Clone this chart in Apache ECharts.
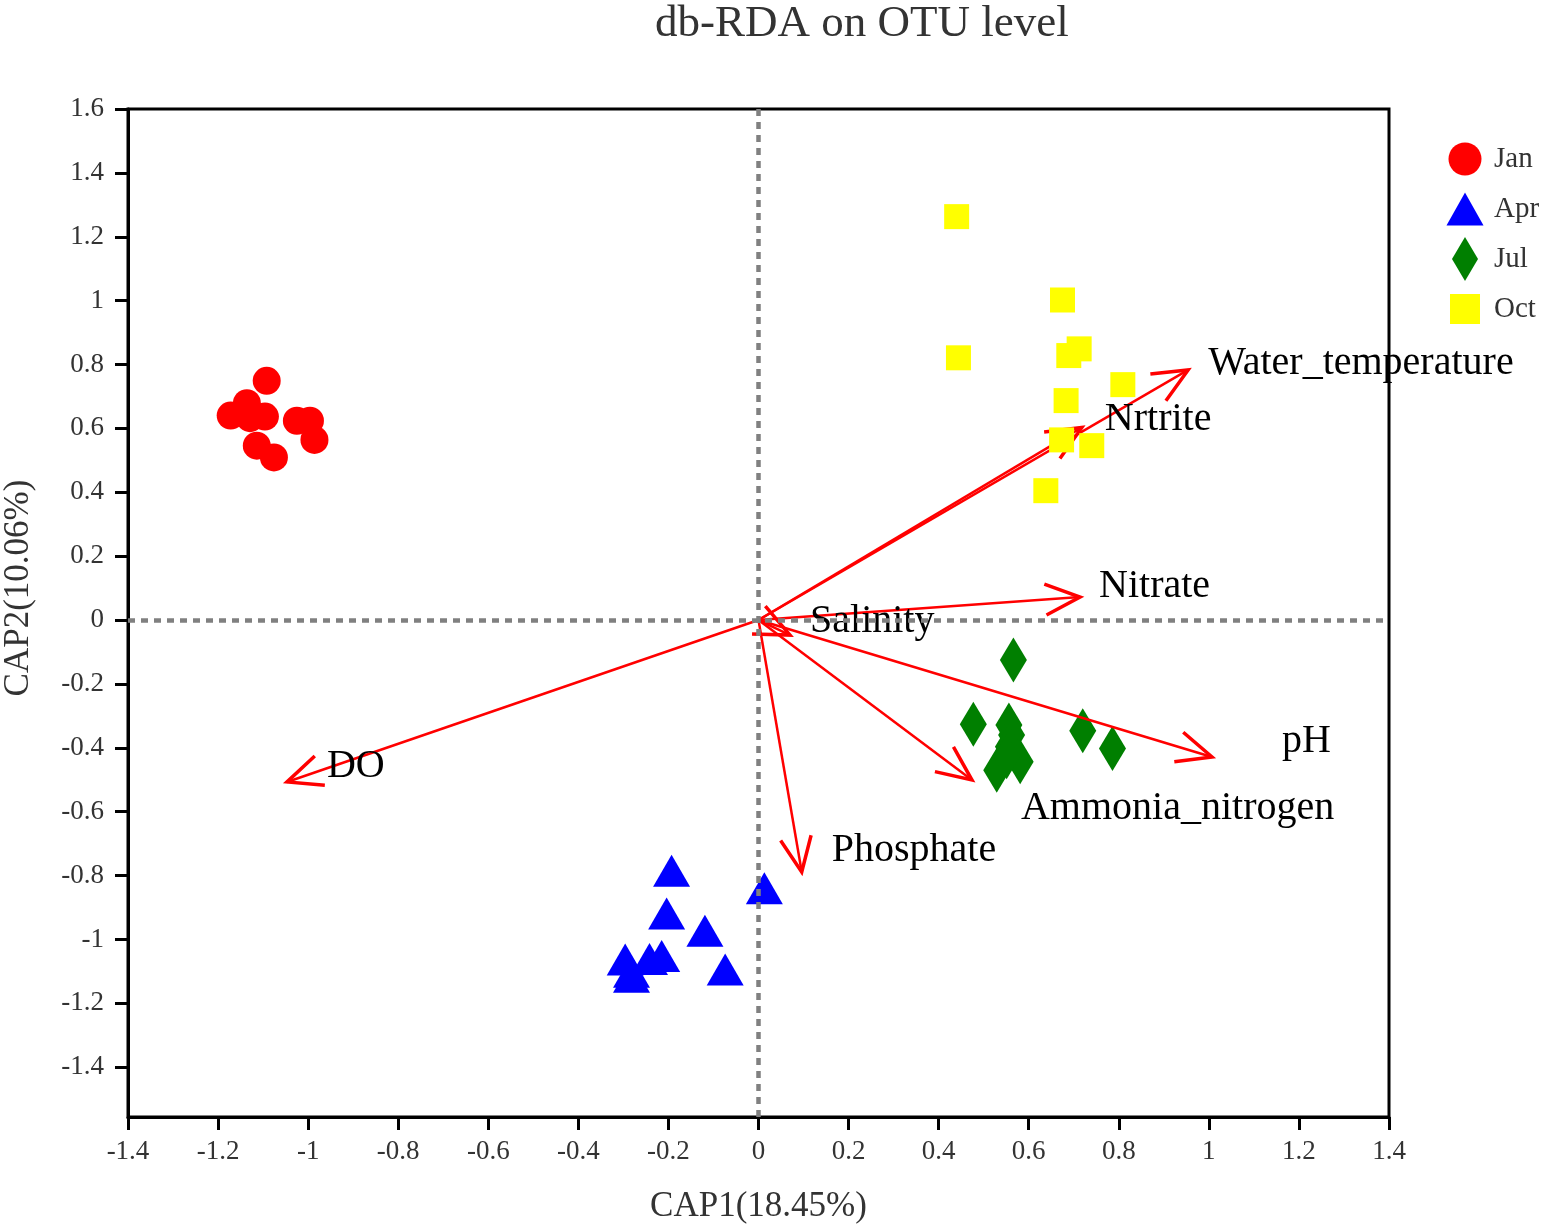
<!DOCTYPE html>
<html>
<head>
<meta charset="utf-8">
<title>db-RDA on OTU level</title>
<script src="https://cdn.jsdelivr.net/npm/echarts@6/dist/echarts.min.js"></script>
<style>
  html, body { margin: 0; padding: 0; background: #fff; }
  #main { width: 1544px; height: 1229px; }
</style>
</head>
<body>
<div id="main"></div>
<script>
// sample scores, [CAP1, CAP2]
var jan = [[-1.092, 0.749], [-1.136, 0.679], [-1.172, 0.640], [-1.129, 0.632], [-1.096, 0.637],
           [-1.025, 0.624], [-0.996, 0.624], [-0.986, 0.564], [-1.114, 0.546], [-1.076, 0.509]];
var apr = [[-0.193, -0.785], [0.013, -0.840], [-0.204, -0.919], [-0.119, -0.973], [-0.215, -1.052],
           [-0.242, -1.061], [-0.296, -1.063], [-0.074, -1.094], [-0.282, -1.101], [-0.282, -1.117]];
var jul = [[0.566, -0.125], [0.477, -0.326], [0.556, -0.329], [0.720, -0.347], [0.786, -0.402],
           [0.562, -0.360], [0.555, -0.397], [0.581, -0.444], [0.529, -0.470], [0.551, -0.428]];
var oct = [[0.440, 1.263], [0.675, 1.002], [0.444, 0.821], [0.712, 0.849], [0.689, 0.828],
           [0.809, 0.737], [0.683, 0.687], [0.673, 0.564], [0.740, 0.546], [0.638, 0.405]];

// environmental factor arrows
var envNames = ['Water_temperature', 'Nrtrite', 'Nitrate', 'Salinity', 'pH', 'Ammonia_nitrogen', 'Phosphate', 'DO'];
var envCAP1 = [0.954, 0.718, 0.714, 0.070, 1.007, 0.474, 0.096, -1.047];
var envCAP2 = [0.783, 0.603, 0.072, -0.047, -0.429, -0.501, -0.789, -0.507];

var xTicks = [-1.4, -1.2, -1, -0.8, -0.6, -0.4, -0.2, 0, 0.2, 0.4, 0.6, 0.8, 1, 1.2, 1.4];
var yTicks = [-1.4, -1.2, -1, -0.8, -0.6, -0.4, -0.2, 0, 0.2, 0.4, 0.6, 0.8, 1, 1.2, 1.4, 1.6];

// label offset from arrow tip, px
var labelShift = {
  'Water_temperature': [20, -6],
  'Nrtrite': [23, -8],
  'Nitrate': [19, -11],
  'Salinity': [20, -14],
  'pH': [70, -16],
  'Ammonia_nitrogen': [49, 28],
  'Phosphate': [30, -22],
  'DO': [40, -15]
};

var FONT = '"Liberation Serif", "DejaVu Serif", serif';

var chart = echarts.init(document.getElementById('main'));

function renderArrow(params, api) {
  var o = api.coord([0, 0]);
  var t = api.coord([api.value(0), api.value(1)]);
  var ang = Math.atan2(t[1] - o[1], t[0] - o[0]);
  var len = 38, spread = 24 * Math.PI / 180;
  var a1 = [t[0] - len * Math.cos(ang - spread), t[1] - len * Math.sin(ang - spread)];
  var a2 = [t[0] - len * Math.cos(ang + spread), t[1] - len * Math.sin(ang + spread)];
  var name = envNames[params.dataIndex];
  var sh = labelShift[name];
  return {
    type: 'group',
    children: [
      { type: 'line', shape: { x1: o[0], y1: o[1], x2: t[0], y2: t[1] }, style: { stroke: '#ff0000', lineWidth: 2.5, fill: null } },
      { type: 'polyline', shape: { points: [a1, t, a2] }, style: { stroke: '#ff0000', lineWidth: 3.5, lineJoin: 'miter', fill: null } },
      {
        type: 'text',
        x: t[0] + sh[0], y: t[1] + sh[1],
        style: { text: name, fontSize: 40, fontFamily: FONT, fill: '#000', align: 'left', verticalAlign: 'middle' }
      }
    ]
  };
}

var option = {
  backgroundColor: '#fff',
  animation: false,
  title: {
    text: 'db-RDA on OTU level',
    left: 650,
    top: -3,
    textStyle: { fontSize: 45, fontWeight: 'normal', fontFamily: FONT, color: '#333' }
  },
  legend: {
    orient: 'vertical',
    left: 1440,
    top: 132,
    itemWidth: 40,
    itemHeight: 44,
    itemGap: 6,
    symbolKeepAspect: true,
    textStyle: { fontSize: 29, fontFamily: FONT, color: '#333', padding: [0, 0, 0, 4] },
    data: [
      { name: 'Jan', icon: 'path://M0,0 M40,44 M3.5,22 A16.5,16.5 0 1 1 36.5,22 A16.5,16.5 0 1 1 3.5,22 Z' },
      { name: 'Apr', icon: 'path://M0,0 M40,44 M1.5,38.5 L20,5.5 L38.5,38.5 Z' },
      { name: 'Jul', icon: 'path://M0,0 M40,44 M20,0 L33,22 L20,44 L7,22 Z' },
      { name: 'Oct', icon: 'path://M0,0 M40,44 M5,7 L35,7 L35,37 L5,37 Z' }
    ]
  },
  grid: {
    left: 128, right: 155, top: 109, bottom: 112,
    containLabel: false,
    outerBoundsMode: 'none',
    show: true, borderColor: '#000', borderWidth: 3, backgroundColor: 'transparent'
  },
  xAxis: {
    type: 'value',
    min: -1.4, max: 1.4,
    name: 'CAP1(18.45%)',
    nameLocation: 'middle',
    nameGap: 72,
    nameTextStyle: { fontSize: 35, fontFamily: FONT, color: '#333' },
    axisLine: { show: true, onZero: false, lineStyle: { color: '#000', width: 3 } },
    axisTick: { show: true, inside: false, length: 13, lineStyle: { color: '#000', width: 3 }, customValues: xTicks },
    axisLabel: { margin: 21, fontSize: 27, fontFamily: FONT, color: '#333', customValues: xTicks },
    splitLine: { show: false }
  },
  yAxis: {
    type: 'value',
    min: -1.556, max: 1.6,
    name: 'CAP2(10.06%)',
    nameLocation: 'middle',
    nameGap: 92,
    nameTextStyle: { fontSize: 35, fontFamily: FONT, color: '#333', padding: [0, 0, 0, 50] },
    axisLine: { show: true, onZero: false, lineStyle: { color: '#000', width: 3 } },
    axisTick: { show: true, inside: false, length: 13, lineStyle: { color: '#000', width: 3 }, customValues: yTicks },
    axisLabel: { margin: 24, fontSize: 27, fontFamily: FONT, color: '#333', customValues: yTicks },
    splitLine: { show: false }
  },
  series: [
    {
      name: 'ref',
      type: 'scatter',
      data: [],
      z: 1,
      silent: true,
      markLine: {
        silent: true,
        symbol: ['none', 'none'],
        label: { show: false },
        lineStyle: { color: '#808080', width: 4.5, type: [7, 6] },
        data: [{ xAxis: 0 }, { yAxis: 0 }]
      }
    },
    { name: 'Jan', type: 'scatter', symbol: 'circle', symbolSize: 28, z: 2, itemStyle: { color: '#ff0000', opacity: 1 }, data: jan },
    { name: 'Apr', type: 'scatter', symbol: 'triangle', symbolSize: [37, 32], z: 2, itemStyle: { color: '#0000ff', opacity: 1 }, data: apr },
    { name: 'Jul', type: 'scatter', symbol: 'diamond', symbolSize: [27, 45], z: 2, itemStyle: { color: '#007f00', opacity: 1 }, data: jul },
    {
      name: 'env',
      type: 'custom',
      z: 3,
      silent: true,
      renderItem: renderArrow,
      data: envNames.map(function (n, i) { return { name: n, value: [envCAP1[i], envCAP2[i]] }; })
    },
    { name: 'Oct', type: 'scatter', symbol: 'rect', symbolSize: 25, z: 4, itemStyle: { color: '#ffff00', opacity: 1 }, data: oct }
  ]
};

chart.setOption(option);
</script>
</body>
</html>
